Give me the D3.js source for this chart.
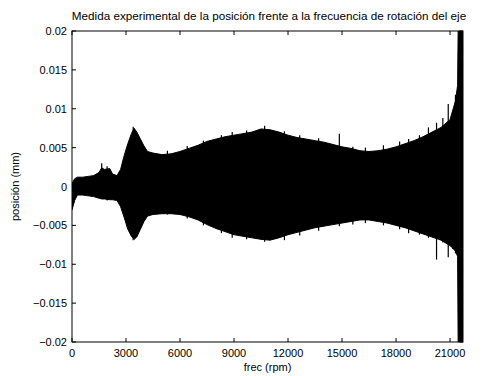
<!DOCTYPE html>
<html>
<head>
<meta charset="utf-8">
<script src="https://cdn.jsdelivr.net/npm/d3@7"></script>
<style>
  body { margin: 0; background: #fff; }
  svg { display: block; font-family: "Liberation Sans", Arial, sans-serif; }
</style>
</head>
<body>
<div id="chart"></div>
<script>
const W = 491, H = 376;
const MARGIN = { top: 31, right: 28, bottom: 34, left: 72 };

const TITLE = "Medida experimental de la posición frente a la frecuencia de rotación del eje";
const X_LABEL = "frec (rpm)";
const Y_LABEL = "posición (mm)";
const X_TICKS = [0, 3000, 6000, 9000, 12000, 15000, 18000, 21000];
const Y_TICKS = [-0.02, -0.015, -0.01, -0.005, 0, 0.005, 0.01, 0.015, 0.02];
const X_MAX = 21720;

const rpm = [0, 150, 300, 600, 900, 1200, 1500, 1650, 1800, 2100, 2250, 2500, 2700, 2900, 3100, 3300, 3450, 3600, 3800, 4000,
  4200, 4500, 5000, 5500, 6000, 6500, 7000, 7500, 8000, 8500, 9000, 9500, 10000, 10500, 11000, 11500, 12000, 12500, 13000,
  13500, 14000, 14500, 15000, 15500, 16000, 16500, 17000, 17500, 18000, 18500, 19000, 19500, 20000, 20500, 21000, 21300,
  21420, 21450, 21720];
const upper = [0.0004, 0.0010, 0.0012, 0.0012, 0.0013, 0.0014, 0.0018, 0.0024, 0.0022, 0.0023, 0.0016, 0.0014, 0.0022, 0.0040,
  0.0055, 0.0068, 0.0075, 0.0070, 0.0061, 0.0052, 0.0045, 0.0043, 0.0041, 0.0042, 0.0045, 0.0049, 0.0053, 0.0058, 0.0061,
  0.0064, 0.0066, 0.0068, 0.0070, 0.0074, 0.0073, 0.0070, 0.0066, 0.0063, 0.0061, 0.0059, 0.0057, 0.0054, 0.0051, 0.0049,
  0.0046, 0.0045, 0.0046, 0.0048, 0.0051, 0.0055, 0.0059, 0.0064, 0.0070, 0.0076, 0.0086, 0.0110, 0.0130, 0.0200, 0.0200];
const lower = [-0.0030, -0.0018, -0.0011, -0.0011, -0.0012, -0.0013, -0.0015, -0.0016, -0.0016, -0.0017, -0.0017, -0.0018,
  -0.0026, -0.0040, -0.0055, -0.0064, -0.0068, -0.0065, -0.0055, -0.0045, -0.0038, -0.0036, -0.0035, -0.0035, -0.0036,
  -0.0039, -0.0043, -0.0049, -0.0054, -0.0058, -0.0062, -0.0064, -0.0066, -0.0068, -0.0069, -0.0066, -0.0062, -0.0059,
  -0.0056, -0.0053, -0.0051, -0.0049, -0.0047, -0.0045, -0.0043, -0.0043, -0.0045, -0.0047, -0.0050, -0.0053, -0.0057,
  -0.0061, -0.0065, -0.0069, -0.0076, -0.0083, -0.0090, -0.0200, -0.0200];

// isolated peaks sticking out of the envelope: [rpm, top, bottom]
const peaks = [[1650, 0.0030, -0.0016], [1950, 0.0026, -0.0018], [3400, 0.0077, -0.0069], [5300, 0.0046, -0.0036],
  [6400, 0.0052, -0.0041], [7300, 0.0059, -0.0050], [8300, 0.0066, -0.0060], [8900, 0.0070, -0.0066],
  [9700, 0.0072, -0.0068], [10700, 0.0078, -0.0071], [11800, 0.0071, -0.0069], [12650, 0.0066, -0.0063],
  [13700, 0.0062, -0.0057], [14850, 0.0068, -0.0051], [15600, 0.0051, -0.0049], [16300, 0.0050, -0.0047],
  [17300, 0.0053, -0.0050], [18200, 0.0058, -0.0055], [18700, 0.0061, -0.0060], [19300, 0.0066, -0.0062],
  [19800, 0.0076, -0.0066], [20250, 0.0082, -0.0094], [20600, 0.0088, -0.0072], [20900, 0.0106, -0.0091],
  [21150, 0.0096, -0.0080], [21300, 0.0118, -0.0086]];

const svg = d3.select("#chart").append("svg").attr("width", W).attr("height", H);

const x = d3.scaleLinear().domain([0, X_MAX]).range([MARGIN.left, W - MARGIN.right]);
const y = d3.scaleLinear().domain([-0.02, 0.02]).range([H - MARGIN.bottom, MARGIN.top]);

svg.append("clipPath").attr("id", "plot-clip")
  .append("rect")
  .attr("x", MARGIN.left).attr("y", MARGIN.top)
  .attr("width", W - MARGIN.left - MARGIN.right)
  .attr("height", H - MARGIN.top - MARGIN.bottom);

const plot = svg.append("g").attr("clip-path", "url(#plot-clip)");

const band = rpm.map((r, i) => ({ r, hi: upper[i], lo: lower[i] }));

plot.append("path")
  .datum(band)
  .attr("d", d3.area().x((d) => x(d.r)).y0((d) => y(d.lo)).y1((d) => y(d.hi)))
  .attr("fill", "#000")
  .attr("stroke", "#000")
  .attr("stroke-width", 1);

plot.selectAll("line.peak")
  .data(peaks)
  .join("line")
  .attr("class", "peak")
  .attr("x1", (d) => x(d[0])).attr("x2", (d) => x(d[0]))
  .attr("y1", (d) => y(d[1])).attr("y2", (d) => y(d[2]))
  .attr("stroke", "#000")
  .attr("stroke-width", 1.2);

// axes, MATLAB style: ticks inward on all four sides
const tick = 4;
const axisG = svg.append("g").attr("font-size", 11).attr("fill", "#000");

svg.append("rect")
  .attr("x", MARGIN.left).attr("y", MARGIN.top)
  .attr("width", W - MARGIN.left - MARGIN.right)
  .attr("height", H - MARGIN.top - MARGIN.bottom)
  .attr("fill", "none").attr("stroke", "#000").attr("stroke-width", 1);

X_TICKS.forEach((t) => {
  svg.append("line").attr("x1", x(t)).attr("x2", x(t))
    .attr("y1", y(-0.02)).attr("y2", y(-0.02) - tick).attr("stroke", "#000");
  svg.append("line").attr("x1", x(t)).attr("x2", x(t))
    .attr("y1", y(0.02)).attr("y2", y(0.02) + tick).attr("stroke", "#000");
  axisG.append("text").attr("x", x(t)).attr("y", y(-0.02) + 15)
    .attr("text-anchor", "middle").text(t);
});

Y_TICKS.forEach((t) => {
  svg.append("line").attr("x1", x(0)).attr("x2", x(0) + tick)
    .attr("y1", y(t)).attr("y2", y(t)).attr("stroke", "#000");
  svg.append("line").attr("x1", x(X_MAX)).attr("x2", x(X_MAX) - tick)
    .attr("y1", y(t)).attr("y2", y(t)).attr("stroke", "#000");
  axisG.append("text").attr("x", x(0) - 5).attr("y", y(t) + 4)
    .attr("text-anchor", "end").text(t === 0 ? "0" : d3.format("")(t).replace("-", "\u2212"));
});

svg.append("text").attr("x", 269).attr("y", 20)
  .attr("text-anchor", "middle").attr("font-size", 11.7).text(TITLE);

svg.append("text").attr("x", (x(0) + x(X_MAX)) / 2).attr("y", 371)
  .attr("text-anchor", "middle").attr("font-size", 11).text(X_LABEL);

svg.append("text")
  .attr("transform", `translate(19,${y(0)}) rotate(-90)`)
  .attr("text-anchor", "middle").attr("font-size", 11).text(Y_LABEL);
</script>
</body>
</html>
